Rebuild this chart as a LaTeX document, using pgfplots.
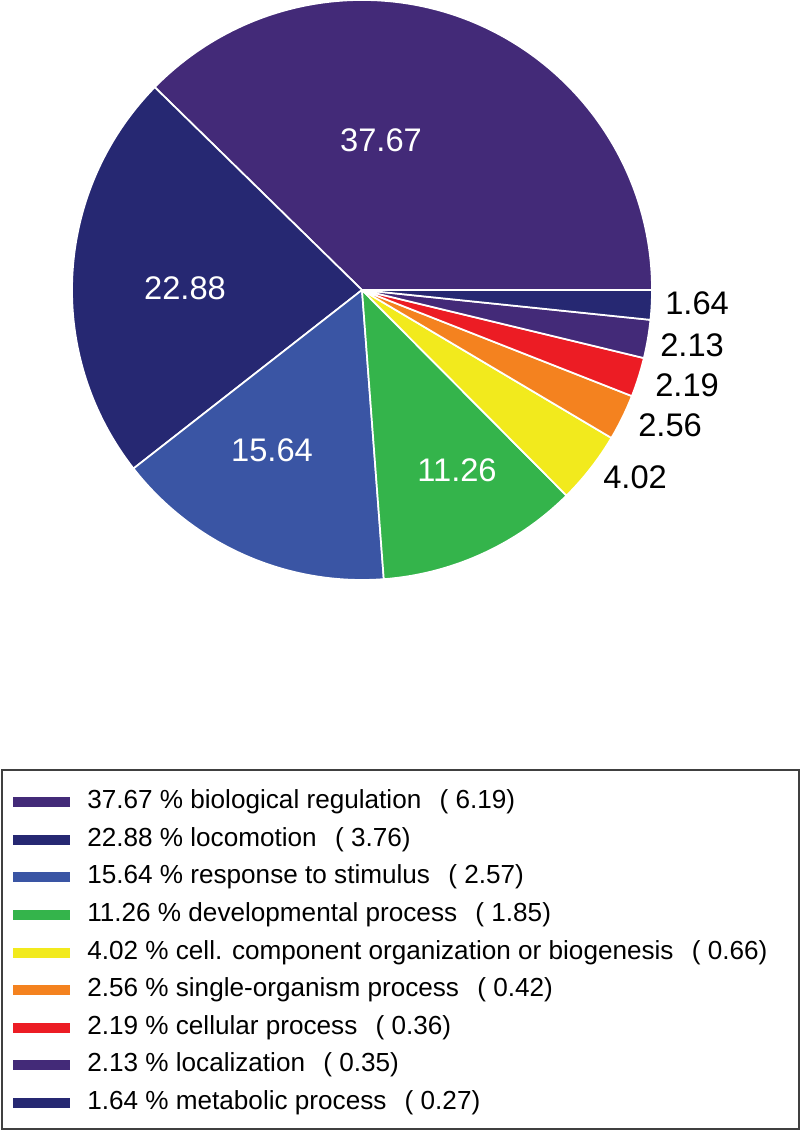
\documentclass[border=0pt]{standalone}
\usepackage{pgfplots}
\pgfplotsset{compat=1.18}
\usepackage{fontspec}
\setmainfont{Liberation Sans}
\definecolor{c1}{HTML}{432A78}
\definecolor{c2}{HTML}{262872}
\definecolor{c3}{HTML}{3A55A4}
\definecolor{c4}{HTML}{34B44B}
\definecolor{c5}{HTML}{F2EA1D}
\definecolor{c6}{HTML}{F4821F}
\definecolor{c7}{HTML}{EC1C24}
\definecolor{c8}{HTML}{432A78}
\definecolor{c9}{HTML}{262872}
% pie centre (px coords, y up) and radius
\newcommand\cx{362}
\newcommand\cy{841}
\newcommand\rr{290}
% #1 = cumulative start (%), #2 = value (%), #3 = colour
\newcommand\slice[3]{%
  \fill[#3, draw=white, line width=1.3pt, line join=round]
    (axis cs:\cx,\cy) --
    (axis cs:{\cx+\rr*cos(360/99.99*(#1))},{\cy+\rr*sin(360/99.99*(#1))})
    arc[start angle={360/99.99*(#1)}, end angle={360/99.99*(#1+#2)}, radius=217.5pt]
    -- cycle;}
\newcommand\labfont{\fontsize{24.5pt}{28pt}\selectfont}
\begin{document}
\begin{tikzpicture}
\useasboundingbox (0,0) rectangle (600pt,848.25pt);
\begin{axis}[
  at={(0,0)}, anchor=south west,
  scale only axis, width=600pt, height=848.25pt,
  xmin=0, xmax=800, ymin=0, ymax=1131,
  hide axis, clip=false,
  legend cell align=left,
  legend image code/.code={\draw[#1, line width=7.5pt] (0pt,0pt) -- (42.75pt,0pt);},
  legend style={
    at={(0.01,0.30256)}, anchor=north west,
    draw=none, fill=none, inner sep=0pt,
    font=\fontsize{19.6pt}{23pt}\selectfont,
    row sep=8.5pt,
    nodes={inner sep=0pt, text height=14.8pt, text depth=4.9pt},
    /tikz/every odd column/.append style={column sep=9pt},
  },
]
\slice{0}{37.67}{c1}
\slice{37.67}{22.88}{c2}
\slice{60.55}{15.64}{c3}
\slice{76.19}{11.26}{c4}
\slice{87.45}{4.02}{c5}
\slice{91.47}{2.56}{c6}
\slice{94.03}{2.19}{c7}
\slice{96.22}{2.13}{c8}
\slice{98.35}{1.64}{c9}

\node[white, font=\labfont, inner sep=0pt] at (axis cs:381,991) {37.67};
\node[white, font=\labfont, inner sep=0pt] at (axis cs:185,843) {22.88};
\node[white, font=\labfont, inner sep=0pt] at (axis cs:272,681) {15.64};
\node[white, font=\labfont, inner sep=0pt] at (axis cs:457,661) {11.26};
\node[black, font=\labfont, inner sep=0pt, anchor=west] at (axis cs:665,828) {1.64};
\node[black, font=\labfont, inner sep=0pt, anchor=west] at (axis cs:660,786) {2.13};
\node[black, font=\labfont, inner sep=0pt, anchor=west] at (axis cs:655,746) {2.19};
\node[black, font=\labfont, inner sep=0pt, anchor=west] at (axis cs:638,706) {2.56};
\node[black, font=\labfont, inner sep=0pt, anchor=west] at (axis cs:603,654) {4.02};

\draw[line width=1pt, black!75] (axis cs:2,2) rectangle (axis cs:799,361);

\addlegendimage{color=c1}
\addlegendentry{37.67 \% biological regulation\hspace{0.7em}( 6.19)}
\addlegendimage{color=c2}
\addlegendentry{22.88 \% locomotion\hspace{0.7em}( 3.76)}
\addlegendimage{color=c3}
\addlegendentry{15.64 \% response to stimulus\hspace{0.7em}( 2.57)}
\addlegendimage{color=c4}
\addlegendentry{11.26 \% developmental process\hspace{0.7em}( 1.85)}
\addlegendimage{color=c5}
\addlegendentry{4.02 \% cell. component organization or biogenesis\hspace{0.7em}( 0.66)}
\addlegendimage{color=c6}
\addlegendentry{2.56 \% single-organism process\hspace{0.7em}( 0.42)}
\addlegendimage{color=c7}
\addlegendentry{2.19 \% cellular process\hspace{0.7em}( 0.36)}
\addlegendimage{color=c8}
\addlegendentry{2.13 \% localization\hspace{0.7em}( 0.35)}
\addlegendimage{color=c9}
\addlegendentry{1.64 \% metabolic process\hspace{0.7em}( 0.27)}
\end{axis}
\end{tikzpicture}
\end{document}
